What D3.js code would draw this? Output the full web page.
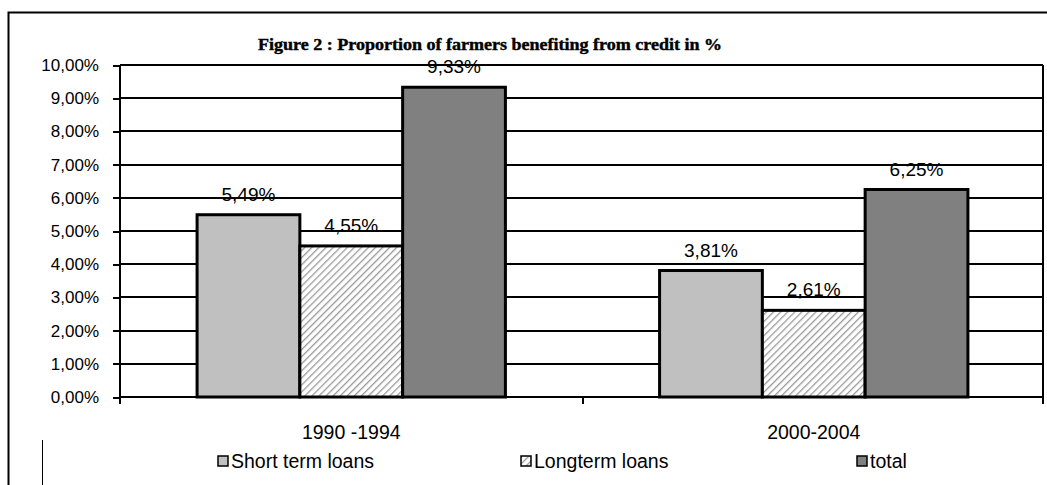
<!DOCTYPE html>
<html>
<head>
<meta charset="utf-8">
<script src="https://cdn.jsdelivr.net/npm/d3@7.9.0/dist/d3.min.js"></script>
<style>
  html, body { margin: 0; padding: 0; background: #fff; }
  svg { display: block; }
  text { font-family: "Liberation Sans", Arial, sans-serif; fill: #000; }
</style>
</head>
<body>
<svg id="chart" width="1047" height="485"></svg>
<script>
// chart values
const periods = ['1990 -1994', '2000-2004'];
const series = ['Short term loans', 'Longterm loans', 'total'];
const shortTerm = [5.49, 3.81];
const longTerm = [4.55, 2.61];
const total = [9.33, 6.25];
const yTicks = [0, 1, 2, 3, 4, 5, 6, 7, 8, 9, 10];
const title = 'Figure 2 : Proportion of farmers benefiting from credit in %';

const values = [shortTerm, longTerm, total];
const fmt = v => d3.format('.2f')(v).replace('.', ',') + '%';

const svg = d3.select('#chart');
const plot = { left: 120, right: 1043, top: 65, bottom: 397 };

// hatch pattern for long term loans
const defs = svg.append('defs');
const pat = defs.append('pattern')
  .attr('id', 'hatch')
  .attr('patternUnits', 'userSpaceOnUse')
  .attr('width', 5).attr('height', 5)
  .attr('patternTransform', 'rotate(45)');
pat.append('rect').attr('width', 5).attr('height', 5).attr('fill', '#fff');
pat.append('line')
  .attr('x1', 0).attr('y1', 0).attr('x2', 0).attr('y2', 5)
  .attr('stroke', '#999').attr('stroke-width', 2.6);

const fills = ['#c0c0c0', 'url(#hatch)', '#808080'];

// outer chart frame (only top/left fall inside the picture)
svg.append('rect')
  .attr('x', 8.5).attr('y', 12.5)
  .attr('width', 1200).attr('height', 600)
  .attr('fill', 'none').attr('stroke', '#000').attr('stroke-width', 2);

// title
svg.append('text')
  .attr('x', 490).attr('y', 50)
  .attr('text-anchor', 'middle')
  .attr('textLength', 464)
  .attr('lengthAdjust', 'spacingAndGlyphs')
  .style('font-family', '"Liberation Serif", "Times New Roman", serif')
  .style('font-weight', 'bold')
  .style('font-size', '16.5px')
  .style('stroke', '#000').style('stroke-width', 0.4)
  .text(title);

// scales
const x0 = d3.scaleBand().domain(periods).range([plot.left, plot.right + 2]);
const x1 = d3.scaleBand().domain(series).range([0, x0.bandwidth()]).paddingOuter(0.75);
const y = d3.scaleLinear().domain([0, 10]).range([plot.bottom, plot.top]);

// gridlines
svg.append('g')
  .attr('shape-rendering', 'crispEdges')
  .selectAll('line')
  .data(yTicks.filter(d => d > 0))
  .join('line')
  .attr('x1', plot.left).attr('x2', plot.right)
  .attr('y1', d => Math.round(y(d))).attr('y2', d => Math.round(y(d)))
  .attr('stroke', '#000').attr('stroke-width', 2);

// right border of the plot area
svg.append('line')
  .attr('shape-rendering', 'crispEdges')
  .attr('x1', plot.right).attr('x2', plot.right)
  .attr('y1', plot.top).attr('y2', plot.bottom + 7)
  .attr('stroke', '#000').attr('stroke-width', 2);

// y axis
const yAxis = svg.append('g')
  .attr('transform', `translate(${plot.left},0)`)
  .attr('shape-rendering', 'crispEdges')
  .call(d3.axisLeft(y).tickValues(yTicks).tickSize(7).tickPadding(14)
    .tickFormat(d => fmt(d)));
yAxis.select('.domain').attr('stroke-width', 2).attr('d', `M0,${plot.top}V${plot.bottom + 7}`);
yAxis.selectAll('.tick line').attr('stroke-width', 2);
yAxis.selectAll('.tick text').style('font-size', '17px').style('font-family', '"Liberation Sans", Arial, sans-serif');

// x axis
const xAxis = svg.append('g')
  .attr('transform', `translate(0,${plot.bottom})`)
  .attr('shape-rendering', 'crispEdges')
  .call(d3.axisBottom(x0).tickSize(0).tickPadding(28));
xAxis.select('.domain').attr('stroke-width', 2).attr('d', `M${plot.left},0H${plot.right}`);
xAxis.selectAll('.tick text').style('font-size', '19.5px').style('font-family', '"Liberation Sans", Arial, sans-serif');
// category separator tick
svg.append('line')
  .attr('shape-rendering', 'crispEdges')
  .attr('x1', x0.range()[0] + x0.step()).attr('x2', x0.range()[0] + x0.step())
  .attr('y1', plot.bottom).attr('y2', plot.bottom + 7)
  .attr('stroke', '#000').attr('stroke-width', 2);

// bars
const groups = svg.append('g')
  .selectAll('g')
  .data(periods)
  .join('g')
  .attr('transform', d => `translate(${x0(d)},0)`);

groups.selectAll('rect')
  .data((p, i) => series.map((s, j) => ({ s, j, v: values[j][i] })))
  .join('rect')
  .attr('x', d => x1(d.s))
  .attr('y', d => y(d.v))
  .attr('width', x1.bandwidth())
  .attr('height', d => y(0) - y(d.v))
  .attr('fill', d => fills[d.j])
  .attr('stroke', '#000')
  .attr('stroke-width', 3);

groups.selectAll('text')
  .data((p, i) => series.map((s, j) => ({ s, j, v: values[j][i] })))
  .join('text')
  .attr('x', d => x1(d.s) + x1.bandwidth() / 2)
  .attr('y', d => y(d.v) - 14)
  .attr('text-anchor', 'middle')
  .style('font-size', '19px')
  .text(d => fmt(d.v));

// legend
const legendX = [218, 521, 857];
const legend = svg.append('g')
  .selectAll('g')
  .data(series)
  .join('g')
  .attr('transform', (d, i) => `translate(${legendX[i]},456)`);
legend.append('rect')
  .attr('width', 10).attr('height', 10)
  .attr('fill', (d, i) => fills[i])
  .attr('stroke', '#000').attr('stroke-width', 1.5);
legend.append('text')
  .attr('x', 13).attr('y', 12)
  .style('font-size', '19.5px')
  .text(d => d);

// stray vertical mark bottom-left
svg.append('line')
  .attr('x1', 42.5).attr('x2', 42.5)
  .attr('y1', 440).attr('y2', 485)
  .attr('stroke', '#000').attr('stroke-width', 1);
</script>
</body>
</html>
